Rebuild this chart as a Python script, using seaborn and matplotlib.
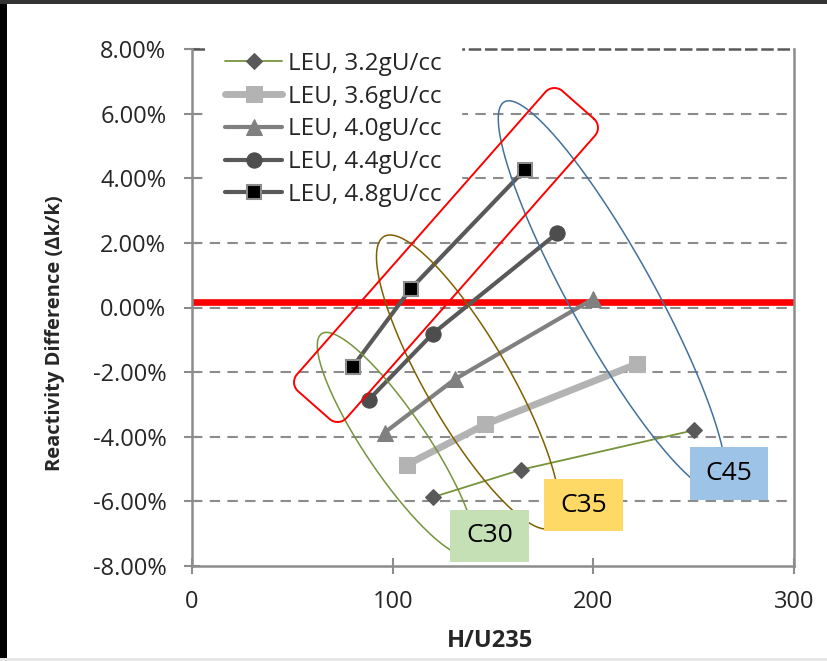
import numpy as np
import pandas as pd
import matplotlib.pyplot as plt
import seaborn as sns
from matplotlib.patches import Rectangle

# --- data (H/U235 vs reactivity difference, %) ---
hu_32 = [120, 164, 250]
dk_32 = [-5.87, -5.02, -3.80]
hu_36 = [107, 146, 222]
dk_36 = [-4.87, -3.62, -1.74]
hu_40 = [96, 131, 200]
dk_40 = [-3.87, -2.22, 0.27]
hu_44 = [88, 120, 182]
dk_44 = [-2.86, -0.81, 2.30]
hu_48 = [80, 109, 166]
dk_48 = [-1.84, 0.58, 4.27]
labels = ['LEU, 3.2gU/cc', 'LEU, 3.6gU/cc', 'LEU, 4.0gU/cc',
          'LEU, 4.4gU/cc', 'LEU, 4.8gU/cc']
ref_line = 0.18
group_names = ['C30', 'C35', 'C45']

sns.set_style('white')
plt.rcParams['font.family'] = ['Open Sans', 'DejaVu Sans']

W, H = 828, 661
fig = plt.figure(figsize=(W / 100, H / 100), dpi=100)
# plot area in pixels of the reference
L, R, T, B = 192, 794, 49, 566
ax = fig.add_axes([L / W, 1 - B / H, (R - L) / W, (B - T) / H])
ax.set_xlim(0, 300)
ax.set_ylim(-8, 8)


def px2data(px, py):
    px = np.asarray(px, float)
    py = np.asarray(py, float)
    return (px - L) / (R - L) * 300, 8 - (py - T) / (B - T) * 16


# gridlines
for yv in [-6, -4, -2, 0, 2, 4, 6]:
    ax.axhline(yv, color='#8c8c8c', lw=1.5, ls=(0, (5, 3.5)), zorder=1)
ax.axhline(8, color='#595959', lw=1.8, ls=(0, (5, 1.5)), zorder=1, clip_on=False)

# reference line
ax.axhline(ref_line, color='#ff0000', lw=4.8, zorder=2)

# series
series = [
    (hu_32, dk_32, dict(color='#77933c', lw=1.3, marker='D', ms=8, mfc='#595959', mec='#595959')),
    (hu_36, dk_36, dict(color='#b3b3b3', lw=5, marker='s', ms=11, mfc='#b3b3b3', mec='#b3b3b3')),
    (hu_40, dk_40, dict(color='#808080', lw=3, marker='^', ms=11, mfc='#808080', mec='#808080')),
    (hu_44, dk_44, dict(color='#595959', lw=3, marker='o', ms=11, mfc='#4d4d4d', mec='#4d4d4d')),
    (hu_48, dk_48, dict(color='#595959', lw=3, marker='s', ms=10, mfc='black', mec='#8c8c8c', mew=1.5)),
]
for (xs, ys, st), lab in zip(series, labels):
    sns.lineplot(x=xs, y=ys, ax=ax, label=lab, zorder=5, **st)

# ellipses around the groups (drawn in pixel space of the reference)
t = np.linspace(0, 2 * np.pi, 300)
ellipses = [
    (396, 444, 133, 31, 56, '#77933c'),
    (468, 382, 168, 42, 60, '#7f6000'),
    (612, 296, 222, 42, 61, '#41719c'),
]
for cx, cy, a, b, ang, col in ellipses:
    th = np.radians(ang)
    ex = cx + a * np.cos(t) * np.cos(th) - b * np.sin(t) * np.sin(th)
    ey = cy + a * np.cos(t) * np.sin(th) + b * np.sin(t) * np.cos(th)
    dx, dy = px2data(ex, ey)
    ax.plot(dx, dy, color=col, lw=1.1, zorder=11)

# rounded red rectangle
cx, cy, hu, hv, rr = 446, 255, 200, 33, 12
pts = []
for (sx, sy, a0) in [(1, 1, 0), (-1, 1, 90), (-1, -1, 180), (1, -1, 270)]:
    ang = np.radians(np.linspace(a0, a0 + 90, 15))
    pts += list(zip(sx * (hu - rr) + rr * np.cos(ang), sy * (hv - rr) + rr * np.sin(ang)))
pts.append(pts[0])
u, v = np.array(pts).T
th = np.arctan2(-300, 264)
rx = cx + u * np.cos(th) - v * np.sin(th)
ry = cy + u * np.sin(th) + v * np.cos(th)
dx, dy = px2data(rx, ry)
ax.plot(dx, dy, color='#ff0000', lw=1.4, zorder=11)

# group label boxes
boxes = [((450, 510, 529, 562), '#c5e0b4'),
         ((544, 479, 623, 531), '#ffd966'),
         ((690, 447, 768, 500), '#9dc3e6')]
for name, ((x0, y0, x1, y1), col) in zip(group_names, boxes):
    bx0, by1 = px2data(x0, y0)
    bx1, by0 = px2data(x1, y1)
    ax.add_patch(Rectangle((bx0, by0), bx1 - bx0, by1 - by0, facecolor=col,
                           edgecolor='none', zorder=12, clip_on=False))
    ax.text((bx0 + bx1) / 2, (by0 + by1) / 2, name, ha='center', va='center',
            fontsize=19, zorder=13, color='black')

# axes styling
ax.set_xticks([0, 100, 200, 300])
ax.set_yticks(np.arange(-8, 8.1, 2))
ax.set_yticklabels([f'{v:.2f}%' for v in np.arange(-8, 8.1, 2)])
ax.tick_params(axis='both', direction='inout', length=11, width=1.5, color='#8c8c8c',
               labelsize=17, left=True, bottom=True)
ax.tick_params(axis='y', pad=13)
ax.tick_params(axis='x', pad=12)
for s in ['left', 'bottom', 'right']:
    ax.spines[s].set_color('#8c8c8c')
    ax.spines[s].set_linewidth(1.8)
ax.spines['top'].set_visible(False)
ax.set_xlabel('H/U235', fontsize=17, fontweight='bold')
ax.set_ylabel('Reactivity Difference (\u0394k/k)', fontsize=14.5, fontweight='bold')
ax.xaxis.set_label_coords((490 - L) / (R - L), -(641 - B) / (B - T))
ax.xaxis.label.set_va('center')
ax.yaxis.set_label_coords((55 - L) / (R - L), 1 - (333 - T) / (B - T))
ax.yaxis.label.set_va('center')

leg = ax.legend(loc='upper left', bbox_to_anchor=(0.0226, 1.032), frameon=True,
                facecolor='white', edgecolor='white', framealpha=1, fancybox=False,
                fontsize=17.5, handlelength=2.35, handletextpad=0.25, labelspacing=0.36,
                borderpad=0.8, borderaxespad=0)
leg.set_zorder(10)

# dark frame of the original picture
fig.patches.append(Rectangle((0, 0), 7 / W, 1, transform=fig.transFigure,
                             facecolor='black', edgecolor='none'))
fig.patches.append(Rectangle((0, 1 - 4 / H), 1, 4 / H, transform=fig.transFigure,
                             facecolor='#333333', edgecolor='none'))
fig.patches.append(Rectangle((0, 0), 1, 3 / H, transform=fig.transFigure,
                             facecolor='#e6e6e6', edgecolor='none'))

fig.savefig('out.png', dpi=100)
